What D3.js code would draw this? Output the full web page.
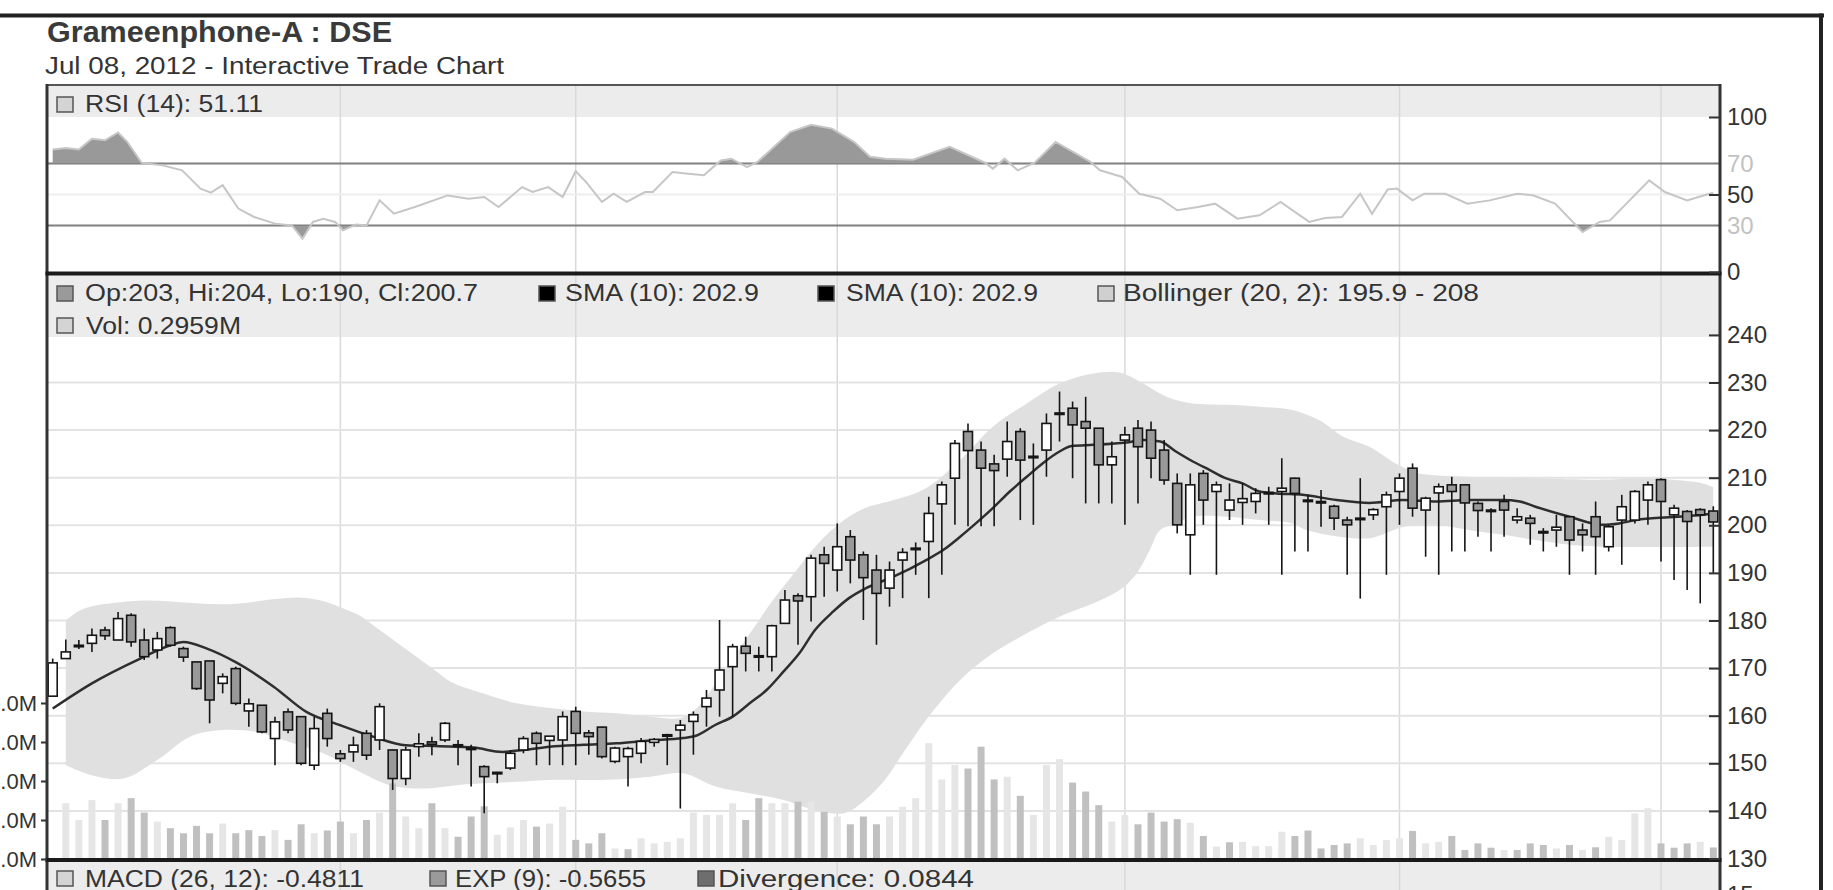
<!DOCTYPE html>
<html>
<head>
<meta charset="utf-8">
<title>Grameenphone-A : DSE</title>
<script src="https://cdn.jsdelivr.net/npm/d3@7"></script>
<style>
  html, body { margin: 0; padding: 0; background: #fff; overflow: hidden; }
  svg { display: block; font-family: "Liberation Sans", Arial, sans-serif; }
</style>
</head>
<body>
<div id="chart"></div>
<script>
// daily candles, Jan 2012 - Jul 2012 (one entry per trading day)
const opens = [164.1,172.0,174.5,175.2,178.0,175.9,181.1,175.9,173.8,178.5,174.1,171.3,171.5,166.8,169.9,161.0,162.2,155.2,160.8,159.8,
  149.6,160.5,152.0,152.4,156.3,154.9,152.8,146.8,153.5,154.5,154.9,153.9,153.2,149.3,148.0,149.0,152.8,156.3,154.8,154.9,
  160.9,156.4,157.6,150.4,151.4,152.1,154.4,155.9,157.0,158.8,161.9,165.4,170.3,174.6,172.6,172.4,179.4,185.2,185.0,193.8,
  190.6,197.6,193.8,190.6,186.8,192.7,195.1,196.6,204.5,209.9,219.7,215.8,212.9,213.9,219.7,214.5,215.8,223.6,224.6,221.8,
  220.4,212.7,217.9,220.4,220.0,215.8,208.8,198.0,210.9,207.1,203.2,204.8,205.0,206.8,207.1,209.9,205.3,205.0,204.0,201.1,
  201.5,202.2,203.9,207.1,212.0,203.2,206.8,208.5,208.5,204.6,203.2,205.0,201.1,201.5,198.7,199.0,201.8,199.0,201.8,195.5,
  201.1,201.1,205.3,209.6,202.2,202.9,203.3,203.0];
const highs = [172.0,176.0,175.9,178.3,178.7,181.8,181.5,178.3,177.6,178.8,174.5,171.3,171.5,168.9,170.3,163.6,162.2,159.8,161.5,159.9,
  159.8,161.5,152.8,155.6,157.0,162.6,152.9,153.5,156.3,155.6,158.7,154.9,153.9,149.6,148.2,152.8,155.7,156.7,155.7,160.9,
  161.9,157.0,157.7,153.5,153.5,155.3,155.3,156.2,159.1,160.9,165.4,180.1,175.1,176.6,174.5,179.1,186.4,185.7,193.8,195.5,
  200.4,199.0,194.5,193.8,192.4,195.2,196.4,206.0,209.2,217.9,221.4,217.6,214.8,221.8,220.4,217.2,223.5,228.1,226.0,227.0,
  220.4,217.6,220.7,222.1,221.8,217.9,210.9,210.9,211.6,209.2,208.8,208.8,207.8,208.1,214.1,210.0,206.4,207.4,204.3,201.8,
  209.9,203.6,207.1,210.9,213.0,206.0,208.8,210.2,208.5,205.0,203.6,206.4,203.6,202.2,199.4,202.2,201.8,200.4,205.0,200.1,
  206.4,207.4,209.2,209.9,204.3,203.2,203.6,204.0];
const lows = [164.0,172.0,174.0,173.4,175.9,175.9,174.5,171.7,172.0,174.5,171.3,165.4,158.4,164.7,162.2,157.7,156.3,149.6,156.3,149.6,
  148.6,153.5,150.3,150.3,150.7,152.8,144.4,145.4,151.4,151.7,154.5,149.6,145.1,139.5,145.8,148.6,152.1,149.6,149.6,149.6,
  149.6,151.8,151.0,150.0,145.1,150.0,153.5,149.6,140.5,151.8,157.7,159.8,159.8,169.3,169.3,169.3,179.4,174.9,179.8,185.0,
  186.1,187.8,180.1,174.9,182.9,184.7,189.6,184.7,189.6,200.1,199.8,199.8,199.8,210.2,201.1,200.1,210.2,217.6,209.9,204.6,
  204.6,204.6,200.1,204.6,209.9,208.5,198.3,189.6,200.1,189.6,201.1,200.1,202.5,200.1,189.6,194.5,194.5,199.7,199.0,189.6,
  184.6,201.1,189.6,200.1,201.8,193.4,189.6,194.5,194.5,197.6,194.5,197.6,200.4,195.9,194.5,195.5,189.6,194.5,189.6,194.5,
  191.7,200.4,200.1,192.4,188.5,186.4,183.6,190.0];
const closes = [171.1,173.4,174.8,176.9,176.8,180.4,175.5,172.4,176.2,174.8,172.3,165.7,163.3,168.2,162.6,162.5,156.6,158.7,157.0,150.0,
  157.3,155.2,151.0,153.8,151.7,161.9,146.8,152.8,154.1,154.0,158.4,153.7,153.0,147.2,148.1,152.1,155.2,154.2,155.7,159.8,
  156.3,155.6,151.4,153.2,153.1,154.6,155.0,156.0,158.0,160.2,163.7,169.6,174.5,173.1,172.4,178.9,184.3,184.1,193.1,192.0,
  195.5,192.7,189.0,185.7,190.6,194.3,195.2,202.5,208.5,217.2,215.7,212.0,211.5,217.6,213.7,214.4,221.4,223.5,221.1,220.4,
  212.7,214.4,219.0,216.5,214.1,209.5,200.1,208.5,205.3,208.5,205.3,205.6,206.7,206.9,207.8,206.7,205.2,204.8,201.5,200.1,
  201.4,203.3,206.4,209.9,203.6,205.7,208.1,207.1,204.7,203.1,203.0,203.2,201.8,200.4,198.6,199.6,196.9,198.0,197.6,199.7,
  203.9,207.1,208.5,205.0,203.6,200.8,202.2,200.7];
// volume in millions of shares
const volumes = [0,1.43,1.0,1.51,1.0,1.43,1.56,1.19,0.96,0.79,0.66,0.85,0.66,0.91,0.66,0.74,0.59,0.74,0.49,0.89,
  0.66,0.73,0.96,0.66,1.0,1.19,1.94,1.09,0.79,1.43,0.79,0.57,1.09,1.35,0.62,0.81,1.0,0.83,0.91,1.34,
  0.49,0.40,0.66,0.27,0.25,0.53,0.40,0.44,0.53,1.19,1.13,1.13,1.43,1.0,1.56,1.43,1.43,1.47,1.47,1.21,
  1.09,0.89,1.09,0.89,1.09,1.34,1.56,2.97,2.04,2.41,2.32,2.88,2.04,2.11,1.62,1.13,2.41,2.56,1.96,1.73,
  1.38,0.96,1.13,0.89,1.19,0.96,1.02,0.93,0.59,0.32,0.43,0.44,0.33,0.33,0.70,0.59,0.73,0.27,0.36,0.40,
  0.53,0.36,0.49,0.53,0.72,0.40,0.44,0.59,0.23,0.40,0.29,0.23,0.23,0.40,0.36,0.27,0.36,0.23,0.30,0.57,
  0.49,1.17,1.30,0.40,0.29,0.40,0.44,0.2959];
// first trading day of Feb .. Jul (candle index)
const monthStarts = [22, 40, 60, 82, 103, 123];

// indicator lines: [candle index, value]
const smaPoints = [[0,161.5],[3,166.8],[6.7,172],[9,174.8],[10,175.5],[11.8,174.1],[14.1,171.1],[16.9,166.1],[19.4,160.8],[22,158],
  [24.5,155.6],[27,153.8],[29.6,153.6],[32.2,153.3],[34.4,152.4],[36,152.8],[38,153.5],[40.6,153.9],[43.1,154.2],[45.7,154.8],
  [48.2,155.3],[49.2,155.8],[50.7,158.1],[52,159.8],[53.3,162.6],[54.6,165.4],[55.9,169.3],[57.1,173.1],[58.3,178],[59.7,181.9],
  [60.9,184.7],[62.2,186.8],[64.3,189.2],[66.8,192.7],[68.1,194.8],[69.4,197.6],[70.6,200.4],[71.9,203.6],[73.2,207.1],[74.5,210.2],
  [75.7,213],[77,215.5],[78,216.7],[79.6,216.9],[82.1,217.4],[83.4,217.9],[84.7,217.6],[85.9,215.5],[87.2,213.4],[88.5,211.6],
  [89.7,209.9],[91,208.8],[92.3,207.1],[93.6,206.7],[95.6,206.4],[98.2,205.3],[100.7,204.7],[103.3,205.3],[105.8,205],[108.3,205.3],
  [110.9,205.3],[112.2,205],[113.4,203.9],[116,201.8],[118.5,200.1],[119.8,200.4],[121.1,201.1],[123.6,201.7],[126.2,202.2],[127,202.5]];
const bbUpper = [[1,180],[2,182],[3,183],[5,183.8],[7,184.2],[9,184],[11,183.6],[13,183.4],[15,183.8],[17,184.5],
  [19,184.8],[20.5,184.2],[22,182.8],[23.5,181],[25,178],[27,174],[29,170],[30.4,167.2],[32.9,164.7],[35.5,162.6],
  [38,161.6],[40.6,160.9],[43.1,160.5],[45.7,159.8],[48,159.5],[49,161],[50,164],[51,168],[52,172],[53,176],
  [54,180],[55,184],[56,187.5],[57,191],[58,194.5],[59,197.5],[60,200],[61,202],[62,203.5],[64.3,205.3],
  [66.8,207.8],[69.4,213.7],[71.9,220.7],[74.5,225.6],[77,229.8],[79.6,231.9],[81.6,232.1],[83.4,229.8],[84.7,227.7],[85.9,226.3],
  [87.2,225.6],[89.8,225.3],[92.3,224.9],[94.8,224.2],[96.9,222],[98.7,218.6],[100.7,216.5],[102.7,213],[103.8,211.6],[104.5,210.9],
  [108.3,210.2],[113.4,209.9],[118.5,209.6],[121.1,209.9],[123.6,209.6],[126.2,208.8],[127,208]];
const bbLower = [[1,149.6],[3,147.5],[5.4,146.8],[8,150.7],[10.5,155.6],[13,157],[15.6,156.6],[18.1,154.5],[20.7,152.1],[23.2,148.6],
  [25.8,145.4],[28.3,144.7],[30.9,145.4],[32.9,145.8],[35.5,146.1],[38,146.5],[40.6,146.5],[43.1,146.6],[45.7,147.2],[48.2,147.9],
  [50.7,145.1],[53.3,143.7],[55.9,142.3],[58.3,140.2],[60.5,139.5],[62,142],[63.5,146],[65,152],[66.8,159.1],[69.4,167.5],
  [71.9,173.1],[74.5,177.3],[77,180.8],[79.6,183.6],[81.6,186.4],[82.9,189.9],[83.9,194.8],[84.7,199],[85.9,200.4],[87.2,201.8],
  [89.8,201.8],[92.3,201.1],[94.8,200.4],[95.9,199],[98.4,197.6],[100.7,197.3],[101.9,198.3],[103.3,199.7],[105.8,200.1],[108.3,199],
  [110.9,198],[113.4,196.9],[116,195.9],[118.5,195.5],[127,195.5]];
const rsiPoints = [[0,79],[1,80],[2,79],[3,86],[4,85],[5,90],[5.7,84],[6.8,70.5],[8.4,68.8],[9.9,65.6],
  [11.3,53.8],[12.1,51.2],[13,56],[14.2,40.9],[15.4,35.5],[17,31.2],[18.3,30],[19.1,21.5],[19.9,32.3],[20.7,34.4],
  [21.6,32.3],[22.2,26.9],[23.2,30.6],[24,30],[25,46.2],[26.1,37.6],[27.7,41.9],[30.2,49.4],[31.8,47.3],[33,48.4],
  [34.1,41.9],[35.9,54.8],[36.7,51.6],[37.9,54.8],[39,48.4],[40,65],[40.8,58],[42,45.2],[42.9,50.5],[43.9,45.2],
  [45.3,51.6],[45.9,51.6],[47.4,64.5],[48.6,63.4],[49.8,62.4],[51.1,72],[51.9,73.1],[53.1,67.7],[53.9,71],[56.4,90.3],
  [58,95],[59.6,92.5],[61.3,83.8],[62.5,74.4],[63.7,73],[65.8,72.5],[68.6,80.8],[71.3,70.5],[71.9,66.7],[72.8,73.1],
  [73.8,65.6],[75.1,70.5],[76.7,83.9],[79.3,71.4],[80.1,65.6],[81.8,61.3],[83.1,50.5],[84.7,47.3],[86,39.8],[87.6,41.9],
  [88.9,44.1],[90.6,34.4],[92.3,36.6],[93.9,45.2],[96.1,32.3],[97.3,34.8],[98.6,35.5],[100,50.5],[100.9,37.6],[102.1,53.3],
  [102.8,53.8],[104,46.2],[104.9,50.5],[106.5,50.5],[108.2,44.1],[109.9,46.2],[112,50.5],[113.2,49.5],[114.9,44.1],[117,25.8],
  [118.3,32.3],[119.1,33.3],[122.1,59.1],[123.3,51.6],[125,46.2],[126.7,50.5],[127,51.1]];

const priceTicks = [130,140,150,160,170,180,190,200,210,220,230,240];
const rsiTicks = [0,30,50,70,100];
const volTicks = [0,1,2,3,4];

const W = 1833, H = 890;
const FONT = '"Liberation Sans", Arial, sans-serif';
const plotL = 47, plotR = 1720;
const rsiTop = 85, rsiHeadB = 117, rsiBot = 273;
const priceTop = 275, priceHeadB = 337, priceBot = 859;
const macdTop = 862;

const svg = d3.select('#chart').append('svg')
    .attr('width', W).attr('height', H)
    .attr('font-family', FONT);

svg.append('rect').attr('width', W).attr('height', H).attr('fill', '#fff');

const n = closes.length;
const x = d3.scaleLinear().domain([0, n - 1]).range([52.7, 1713.3]);
const yP = d3.scaleLinear().domain([130, 240]).range([858.5, 334.9]);
const yV = d3.scaleLinear().domain([0, 4]).range([859, 703]);
const yR = d3.scaleLinear().domain([0, 100]).range([272, 117]);
const yM = d3.scaleLinear().domain([0, 15]).range([1000, 895]);

// header bands
[[rsiTop, rsiHeadB], [priceTop, priceHeadB], [macdTop, H]].forEach(b => {
    svg.append('rect')
        .attr('x', plotL).attr('y', b[0])
        .attr('width', plotR - plotL).attr('height', b[1] - b[0])
        .attr('fill', '#ececec');
});

// month gridlines
svg.append('g').selectAll('line')
    .data(monthStarts).enter().append('line')
    .attr('x1', d => x(d)).attr('x2', d => x(d))
    .attr('y1', rsiTop).attr('y2', H)
    .attr('stroke', '#d9d9d9').attr('stroke-width', 1.5);

// price gridlines
svg.append('g').selectAll('line')
    .data(priceTicks.filter(d => d > 130 && d < 240)).enter().append('line')
    .attr('x1', plotL).attr('x2', plotR)
    .attr('y1', d => yP(d)).attr('y2', d => yP(d))
    .attr('stroke', '#e3e3e3').attr('stroke-width', 2);

// rsi guide lines
svg.append('g').selectAll('line')
    .data([30, 50, 70]).enter().append('line')
    .attr('x1', plotL).attr('x2', plotR)
    .attr('y1', d => yR(d)).attr('y2', d => yR(d))
    .attr('stroke', d => d === 50 ? '#eeeeee' : '#7c7c7c')
    .attr('stroke-width', 2);

// clip paths
const defs = svg.append('defs');
defs.append('clipPath').attr('id', 'clipPrice').append('rect')
    .attr('x', plotL).attr('y', priceHeadB)
    .attr('width', plotR - plotL).attr('height', priceBot - priceHeadB);
defs.append('clipPath').attr('id', 'clipHigh').append('rect')
    .attr('x', plotL).attr('y', rsiHeadB)
    .attr('width', plotR - plotL).attr('height', yR(70) - rsiHeadB);
defs.append('clipPath').attr('id', 'clipLow').append('rect')
    .attr('x', plotL).attr('y', yR(30))
    .attr('width', plotR - plotL).attr('height', rsiBot - yR(30));

const price = svg.append('g').attr('clip-path', 'url(#clipPrice)');

// bollinger band
const bandLine = d3.line().curve(d3.curveCatmullRom.alpha(0.5));
const upPath = bandLine(bbUpper.map(d => [x(d[0]), yP(d[1])]));
const loPath = bandLine(bbLower.map(d => [x(d[0]), yP(d[1])]).reverse());
price.append('path')
    .attr('d', upPath + 'L' + loPath.slice(1) + 'Z')
    .attr('fill', '#e0e0e0');

// volume bars, shaded by close vs previous close
price.append('g').selectAll('rect')
    .data(volumes).enter().append('rect')
    .attr('x', (d, i) => x(i) - 3.5)
    .attr('width', 7)
    .attr('y', d => yV(d))
    .attr('height', d => yV(0) - yV(d))
    .attr('fill', (d, i) => (i === 0 || closes[i] >= closes[i - 1]) ? '#e6e6e6' : '#c0c0c0');

// SMA
price.append('path')
    .datum(smaPoints)
    .attr('d', d3.line().x(d => x(d[0])).y(d => yP(d[1])).curve(d3.curveMonotoneX))
    .attr('fill', 'none').attr('stroke', '#2e2e2e').attr('stroke-width', 2.5);

// candles
const candles = price.append('g').selectAll('g')
    .data(closes).enter().append('g');
candles.append('line')
    .attr('x1', (d, i) => x(i)).attr('x2', (d, i) => x(i))
    .attr('y1', (d, i) => yP(highs[i])).attr('y2', (d, i) => yP(lows[i]))
    .attr('stroke', '#151515').attr('stroke-width', 1.6);
candles.append('rect')
    .attr('x', (d, i) => x(i) - 4.5)
    .attr('width', 9)
    .attr('y', (d, i) => yP(Math.max(opens[i], d)))
    .attr('height', (d, i) => Math.max(1.5, Math.abs(yP(opens[i]) - yP(d))))
    .attr('fill', (d, i) => d >= opens[i] ? '#ffffff' : '#999999')
    .attr('stroke', '#151515').attr('stroke-width', 1.6);

// RSI
const rsiArea = d3.area().x(d => x(d[0])).y1(d => yR(d[1]));
svg.append('path').datum(rsiPoints)
    .attr('clip-path', 'url(#clipHigh)')
    .attr('d', rsiArea.y0(yR(70)))
    .attr('fill', '#999');
svg.append('path').datum(rsiPoints)
    .attr('clip-path', 'url(#clipLow)')
    .attr('d', rsiArea.y0(yR(30)))
    .attr('fill', '#999');
svg.append('path').datum(rsiPoints)
    .attr('d', d3.line().x(d => x(d[0])).y(d => yR(d[1])))
    .attr('fill', 'none').attr('stroke', '#c6c6c6').attr('stroke-width', 2);

// panel borders
svg.append('line').attr('x1', plotL).attr('x2', plotR).attr('y1', rsiTop).attr('y2', rsiTop)
    .attr('stroke', '#555').attr('stroke-width', 2);
[plotL, plotR].forEach(px => {
    svg.append('line').attr('x1', px).attr('x2', px).attr('y1', rsiTop - 1).attr('y2', H)
        .attr('stroke', '#333').attr('stroke-width', 3);
});
[273.5, 860].forEach(py => {
    svg.append('line').attr('x1', plotL - 1.5).attr('x2', plotR + 1.5).attr('y1', py).attr('y2', py)
        .attr('stroke', '#1a1a1a').attr('stroke-width', 4);
});

// axes
function styleAxis(g) {
    g.select('.domain').remove();
    g.attr('font-size', 24).attr('font-family', FONT);
    g.selectAll('text').attr('fill', '#333');
    g.selectAll('line').attr('stroke', '#333').attr('stroke-width', 2);
}
svg.append('g')
    .attr('transform', `translate(${plotR},0)`)
    .call(d3.axisRight(yP).tickValues(priceTicks).tickSizeInner(-11).tickSizeOuter(0).tickPadding(7))
    .call(styleAxis);
const rsiAxis = svg.append('g')
    .attr('transform', `translate(${plotR},0)`)
    .call(d3.axisRight(yR).tickValues(rsiTicks).tickSizeInner(-11).tickSizeOuter(0).tickPadding(7))
    .call(styleAxis);
rsiAxis.selectAll('.tick').filter(d => d === 30 || d === 70)
    .call(t => t.select('line').remove())
    .select('text').attr('fill', '#c2c2c2');
svg.append('g')
    .attr('transform', `translate(${plotR},0)`)
    .call(d3.axisRight(yM).tickValues([15]).tickSizeInner(-11).tickSizeOuter(0).tickPadding(7))
    .call(styleAxis);
// volume axis: the chart is cropped on the left, so only ".0M" shows
svg.append('g')
    .attr('transform', `translate(${plotL},0)`)
    .call(d3.axisLeft(yV).tickValues(volTicks).tickFormat(d => d3.format('.1f')(d) + 'M')
        .tickSizeInner(6).tickSizeOuter(0).tickPadding(4))
    .call(styleAxis)
    .attr('font-size', 22);

// legends in the header bands
const legends = [
    {ix: 57, iy: 97, fill: '#d4d4d4', tx: 85, ty: 112, len: 178, text: 'RSI (14): 51.11'},
    {ix: 57, iy: 286, fill: '#9a9a9a', tx: 85, ty: 301, len: 393, text: 'Op:203, Hi:204, Lo:190, Cl:200.7'},
    {ix: 539, iy: 286, fill: '#000', tx: 565, ty: 301, len: 194, text: 'SMA (10): 202.9'},
    {ix: 818, iy: 286, fill: '#000', tx: 846, ty: 301, len: 192, text: 'SMA (10): 202.9'},
    {ix: 1098, iy: 286, fill: '#d0d0d0', tx: 1123, ty: 301, len: 356, text: 'Bollinger (20, 2): 195.9 - 208'},
    {ix: 57, iy: 318, fill: '#d4d4d4', tx: 86, ty: 334, len: 155, text: 'Vol: 0.2959M'},
    {ix: 57, iy: 871, fill: '#d4d4d4', tx: 85, ty: 887, len: 279, text: 'MACD (26, 12): -0.4811'},
    {ix: 430, iy: 871, fill: '#9a9a9a', tx: 455, ty: 887, len: 191, text: 'EXP (9): -0.5655'},
    {ix: 698, iy: 871, fill: '#6e6e6e', tx: 718, ty: 887, len: 256, text: 'Divergence: 0.0844'}
];
const lg = svg.append('g').selectAll('g').data(legends).enter().append('g');
lg.append('rect')
    .attr('x', d => d.ix).attr('y', d => d.iy)
    .attr('width', 16).attr('height', 15)
    .attr('fill', d => d.fill).attr('stroke', '#555').attr('stroke-width', 1.5);
lg.append('text')
    .attr('x', d => d.tx).attr('y', d => d.ty)
    .attr('font-size', 23).attr('fill', '#333')
    .attr('textLength', d => d.len).attr('lengthAdjust', 'spacingAndGlyphs')
    .text(d => d.text);

// title
svg.append('text')
    .attr('x', 47).attr('y', 42)
    .attr('font-size', 30).attr('font-weight', 'bold').attr('fill', '#3a3a3a')
    .attr('textLength', 345).attr('lengthAdjust', 'spacingAndGlyphs')
    .text('Grameenphone-A : DSE');
svg.append('text')
    .attr('x', 45).attr('y', 74)
    .attr('font-size', 23).attr('fill', '#333')
    .attr('textLength', 459).attr('lengthAdjust', 'spacingAndGlyphs')
    .text('Jul 08, 2012 - Interactive Trade Chart');

// outer frame
svg.append('line').attr('x1', 0).attr('x2', 1824).attr('y1', 15.5).attr('y2', 15.5)
    .attr('stroke', '#222').attr('stroke-width', 4);
svg.append('line').attr('x1', 1821).attr('x2', 1821).attr('y1', 13.5).attr('y2', H)
    .attr('stroke', '#222').attr('stroke-width', 4);
</script>
</body>
</html>
